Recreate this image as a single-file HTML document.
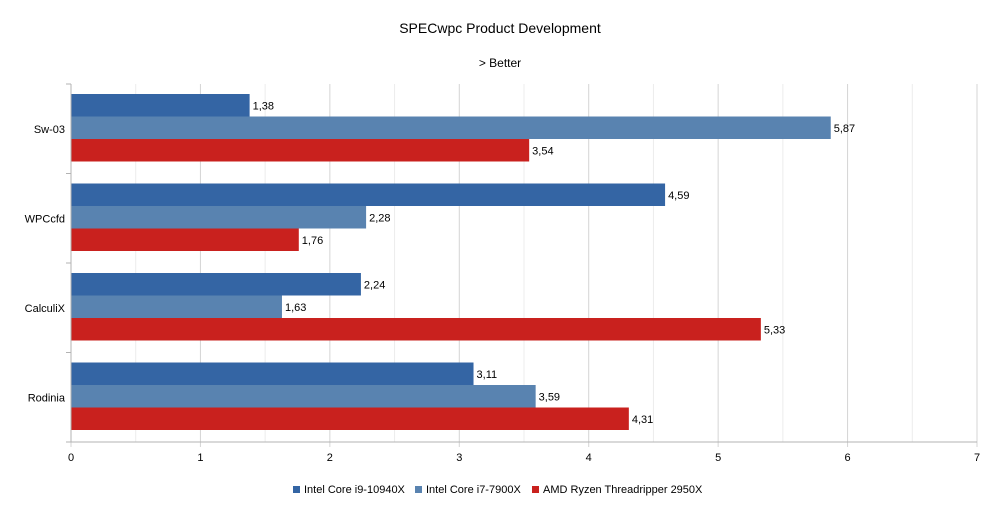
<!DOCTYPE html>
<html><head><meta charset="utf-8"><style>
body{margin:0;background:#fff;font-family:"Liberation Sans",sans-serif;}
svg text{font-family:"Liberation Sans",sans-serif;}
</style></head><body>
<svg id="chart" width="1000" height="500" xmlns="http://www.w3.org/2000/svg">
<rect width="1000" height="500" fill="#fff"/>
<text x="500" y="33" font-size="14" text-anchor="middle">SPECwpc Product Development</text>
<text x="500" y="67" font-size="12" text-anchor="middle">&gt; Better</text>
<g id="grid"></g><g id="bars"></g><g id="axes"></g>
<g>
<rect x="293" y="486" width="7" height="7" fill="#3465a4"/>
<text x="304" y="493" font-size="11">Intel Core i9-10940X</text>
<rect x="415" y="486" width="7" height="7" fill="#5983b0"/>
<text x="426" y="493" font-size="11">Intel Core i7-7900X</text>
<rect x="532" y="486" width="7" height="7" fill="#c9211e"/>
<text x="543" y="493" font-size="11">AMD Ryzen Threadripper 2950X</text>
</g>
</svg>
<script>
const categories=["Sw-03","WPCcfd","CalculiX","Rodinia"];
const i9Values=[1.38,4.59,2.24,3.11];
const i7Values=[5.87,2.28,1.63,3.59];
const amdValues=[3.54,1.76,5.33,4.31];
const xTicks=[0,1,2,3,4,5,6,7];
const NS="http://www.w3.org/2000/svg";
const L=71,R=977,T=84,B=442,XMAX=7;
const x=v=>L+(R-L)*v/XMAX;
const bandH=(B-T)/categories.length;
const y=i=>T+i*bandH;
function mk(tag,attrs,parent){const e=document.createElementNS(NS,tag);for(const k in attrs)e.setAttribute(k,attrs[k]);parent.appendChild(e);return e;}
const grid=document.getElementById('grid'),bars=document.getElementById('bars'),axes=document.getElementById('axes');
xTicks.forEach(t=>{
 const g=mk('line',{x1:x(t),x2:x(t),y1:T,y2:B+5,stroke:'#d4d4d4','stroke-width':1},grid);
 
 
 if(t<XMAX){const h=mk('line',{x1:x(t+0.5),x2:x(t+0.5),y1:T,y2:B,stroke:'#ececec','stroke-width':1},grid);
 
 }
 const lb=mk('text',{x:x(t),y:B+19,'font-size':11,'text-anchor':'middle'},axes);lb.textContent=t;
 
 
});
const series=[[i9Values,'#3465a4','i9'],[i7Values,'#5983b0','i7'],[amdValues,'#c9211e','amd']];
const barH=22.5;
categories.forEach((c,i)=>{
 series.forEach((s,j)=>{
  const v=s[0][i];const by=y(i)+10+j*barH;
  const r=mk('rect',{x:L,y:by,width:x(v)-L,height:barH,fill:s[1]},bars);
  
  
  const lb=mk('text',{x:x(v)+3,y:by+barH/2+4,'font-size':11},bars);lb.textContent=v.toFixed(2).replace('.',',');
  
  
 });
 const cl=mk('text',{x:L-6,y:y(i)+bandH/2+4,'font-size':11,'text-anchor':'end'},axes);cl.textContent=c;
 
 
});
for(let i=0;i<=categories.length;i++){
 const tk=mk('line',{x1:L-5,x2:L,y1:y(i),y2:y(i),stroke:'#b3b3b3'},axes);
 
 
}
const ya=mk('line',{x1:L,x2:L,y1:T,y2:B,stroke:'#b3b3b3'},axes);


const xa=mk('line',{x1:L,x2:R,y1:B,y2:B,stroke:'#b3b3b3'},axes);


</script>
</body></html>
